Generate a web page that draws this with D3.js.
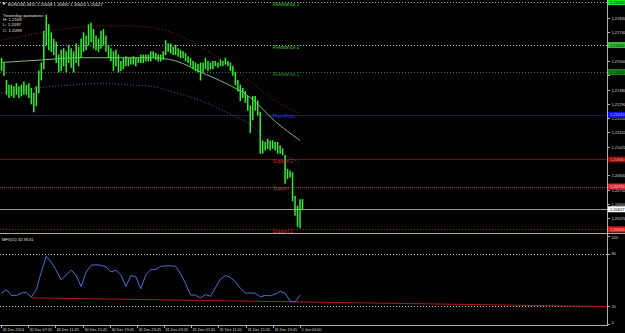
<!DOCTYPE html>
<html>
<head>
<meta charset="utf-8">
<script src="https://cdn.jsdelivr.net/npm/d3@7"></script>
<style>
body{margin:0;background:#000;}
svg{display:block;}
text{font-family:"Liberation Sans",Arial,sans-serif;font-size:4.3px;}
text.axis{font-size:4px;}
text.time{font-size:3.8px;}
text.level{font-size:4.6px;}
</style>
</head>
<body>
<svg id="chart" width="625" height="333"></svg>
<script>
// EURUSD M15 bars (high / low)
const barHigh = [1.2158,1.2155,1.2144,1.2141,1.2141,1.2140,1.2142,1.2140,1.2141,1.2143,1.2141,1.2142,1.2139,1.2136,1.2140,1.2150,
	1.2155,1.2175,1.2185,1.2179,1.2174,1.2170,1.2168,1.2160,1.2163,1.2164,1.2162,1.2166,1.2164,1.2162,1.2167,1.2165,
	1.2170,1.2174,1.2172,1.2179,1.2180,1.2176,1.2172,1.2170,1.2175,1.2176,1.2172,1.2166,1.2164,1.2162,1.2163,1.2160,
	1.2156,1.2158,1.2159,1.2158,1.2158,1.2159,1.2158,1.2158,1.2160,1.2160,1.2160,1.2160,1.2162,1.2162,1.2161,1.2160,
	1.2160,1.2162,1.2169,1.2167,1.2167,1.2165,1.2166,1.2164,1.2163,1.2162,1.2161,1.2159,1.2158,1.2156,1.2155,1.2154,
	1.2155,1.2155,1.2158,1.2156,1.2155,1.2156,1.2156,1.2155,1.2157,1.2156,1.2158,1.2156,1.2155,1.2153,1.2149,1.2144,
	1.2141,1.2139,1.2137,1.2134,1.2128,1.2134,1.2134,1.2131,1.2124,1.2106,1.2105,1.2107,1.2106,1.2106,1.2105,1.2105,
	1.2103,1.2101,1.2097,1.2088,1.2087,1.2086,1.2071,1.2065,1.2069,1.20691];
const barLow = [1.2150,1.2147,1.2135,1.2133,1.2134,1.2133,1.2135,1.2133,1.2134,1.2135,1.2135,1.2133,1.2129,1.2124,1.2128,1.2136,
	1.2144,1.2151,1.2166,1.2163,1.2162,1.2160,1.2155,1.2149,1.2150,1.2153,1.2149,1.2155,1.2152,1.2149,1.2155,1.2153,
	1.2158,1.2162,1.2163,1.2166,1.2168,1.2164,1.2163,1.2162,1.2164,1.2166,1.2162,1.2158,1.2156,1.2150,1.2153,1.2149,
	1.2150,1.2151,1.2153,1.2153,1.2154,1.2154,1.2153,1.2155,1.2155,1.2155,1.2156,1.2156,1.2156,1.2158,1.2157,1.2156,
	1.2156,1.2157,1.2160,1.2162,1.2161,1.2160,1.2160,1.2159,1.2158,1.2158,1.2156,1.2155,1.2153,1.2151,1.2150,1.2149,
	1.2144,1.2149,1.2151,1.2150,1.2151,1.2151,1.2153,1.2152,1.2153,1.2153,1.2154,1.2153,1.2150,1.2147,1.2141,1.2137,
	1.2131,1.2133,1.2130,1.2125,1.2111,1.2119,1.2125,1.2122,1.2098,1.2098,1.2100,1.2101,1.2100,1.2101,1.2100,1.2098,
	1.2098,1.2097,1.2079,1.2082,1.2083,1.2068,1.2059,1.2052,1.2051,1.20624];

// moving average and its bands, one value every 10 bars
const maMid = [1.2155,1.2156,1.2157,1.2158,1.2158,1.2158,1.2158,1.2156,1.2149,1.2142,1.2133,1.2118,1.2106];
const maUpper = [1.2169,1.2172,1.2175,1.2177,1.2178,1.2178,1.2177,1.2173,1.2165,1.2155,1.2143,1.2131,1.2123];
const maLower = [1.2136,1.2138,1.2140,1.2141,1.2142,1.2141,1.2140,1.2136,1.2131,1.2124,1.2116,1.2101,1.2092];

// pivot levels
const levelNames = ["Resistance 3","Resistance 2","Resistance 1","Pivot Point","Support 1","Support","Support 2"];
const levelPrices = [1.21930,1.21660,1.21490,1.21220,1.20940,1.20770,1.20500];
const lastPrice = 1.20627;

const priceTicks = [1.21830,1.21740,1.21650,1.21560,1.21470,1.21380,1.21290,1.21200,1.21110,1.21020,1.20930,1.20840,1.20750,1.20660,1.20570];

// MFI(11), one value every 2 bars
const mfi = [35.2,38.9,32.5,32.5,35.2,36,30.5,38.9,59.3,77,70.4,61.1,50,55.6,61.1,55.5,
	42.6,59,66.7,67.4,66.7,64.8,59.3,61.1,55.6,42.6,55,53.7,40,55.6,62,62,
	65.5,66,66,65.5,57,46,33,32.7,29.6,33.5,31.5,41,51,55,53,48,
	40.7,35.2,35.2,35,31,32.5,32,34,37,35,25.9,25,32.9];
const mfiLevels = [80, 20];
const mfiTrendBars = [12, 243.4];
const mfiTrendValues = [29.7, 19.8];

const timeLabels = ["30 Dec 2014","30 Dec 07:45","30 Dec 11:45","30 Dec 15:45","30 Dec 19:45","30 Dec 23:45",
	"31 Dec 03:45","31 Dec 07:45","31 Dec 11:45","31 Dec 15:45","31 Dec 19:45","2 Jan 03:00"];

const levelStyle = [
	{line:"#8fa88f", dash:"1,2", text:"#2ecc2e", box:"#22dd22", boxText:"#003300"},
	{line:"#b8b8b8", dash:"1,2", text:"#3cc23c", box:"#3ab83a", boxText:"#002200"},
	{line:"#506b50", dash:"1,2", text:"#2f8f2f", box:"#168516", boxText:"#001a00"},
	{line:"#1c1c4c", dash:null,  text:"#2b3cff", box:"#1010e0", boxText:"#c0c0ff"},
	{line:"#6a1414", dash:null,  text:"#d03030", box:"#8c0a0a", boxText:"#ffb0b0"},
	{line:"#a02838", dash:"1,1", text:"#e03040", box:"#d82a3a", boxText:"#ffd0d0"},
	{line:"#8c1c1c", dash:"1,2", text:"#d83030", box:"#e01818", boxText:"#ffd0d0"}
];

const svg = d3.select("#chart");
const axisX = 607;
svg.append("rect").attr("width",625).attr("height",333).attr("fill","#000");

const xBar = d3.scaleLinear().domain([0, barHigh.length - 1]).range([1.5, 302.5]);
const xTime = d3.scaleLinear().domain([0, 176]).range([1, 300]);
const yPrice = d3.scaleLinear().domain([1.20484, 1.21943]).range([232, 0]);
const yMfi = d3.scaleLinear().domain([0, 100]).range([324, 236]);

svg.append("clipPath").attr("id","mainClip").append("rect").attr("width",axisX).attr("height",233);
svg.append("clipPath").attr("id","mfiClip").append("rect").attr("y",234).attr("width",axisX).attr("height",91);

const main = svg.append("g").attr("clip-path","url(#mainClip)");

// pivot lines
levelPrices.forEach(function(p, i){
	main.append("line")
		.attr("x1",0).attr("x2",axisX)
		.attr("y1",Math.round(yPrice(p))+0.5).attr("y2",Math.round(yPrice(p))+0.5)
		.attr("stroke",levelStyle[i].line)
		.attr("stroke-dasharray",levelStyle[i].dash);
});
main.append("line")
	.attr("x1",0).attr("x2",axisX)
	.attr("y1",Math.round(yPrice(lastPrice))+0.5).attr("y2",Math.round(yPrice(lastPrice))+0.5)
	.attr("stroke","#9a9a9a");

// MA lines
const maLine = d3.line()
	.x((d, i) => xBar(i * 10))
	.y(d => yPrice(d))
	.curve(d3.curveMonotoneX);
main.append("path").attr("d",maLine(maUpper))
	.attr("fill","none").attr("stroke","#8a2a2a").attr("stroke-dasharray","1,2");
main.append("path").attr("d",maLine(maLower))
	.attr("fill","none").attr("stroke","#5a5aa8").attr("stroke-dasharray","1,2");
main.append("path").attr("d",maLine(maMid))
	.attr("fill","none").attr("stroke","#7fb87f").attr("stroke-width",1);

// bars
main.selectAll("line.bar")
	.data(barHigh)
	.enter().append("line")
	.attr("class","bar")
	.attr("x1",(d, i) => xBar(i)).attr("x2",(d, i) => xBar(i))
	.attr("y1",d => yPrice(d))
	.attr("y2",(d, i) => yPrice(barLow[i]) + 0.5)
	.attr("stroke","#33ee33")
	.attr("stroke-width",1.5);

// level labels
levelPrices.forEach(function(p, i){
	main.append("text")
		.attr("class","level")
		.attr("x",xTime(160)).attr("y",yPrice(p) + 3.5)
		.attr("fill",levelStyle[i].text)
		.text(levelNames[i]);
});

// header text
svg.append("path").attr("d","M2,2.5 L6,2.5 L4,5 Z").attr("fill","#ddd");
svg.append("text").attr("x",8).attr("y",5.5).attr("fill","#e0e0e0")
	.text("EURUSD,M15  1.20608 1.20691 1.20624 1.20627");
["Yesterday quotations:","H: 1.2169","L: 1.2097","C: 1.2099"].forEach(function(t, i){
	svg.append("text").attr("x",3).attr("y",[16.5,21,26,31.5][i]).attr("fill","#e0e0e0").text(t);
});

// price axis
const boxPrices = levelPrices.concat([lastPrice]);
svg.append("line").attr("x1",axisX+0.5).attr("x2",axisX+0.5).attr("y1",0).attr("y2",325.5).attr("stroke","#b0b0b0");
priceTicks.forEach(function(p){
	const y = Math.round(yPrice(p)) + 0.5;
	svg.append("line").attr("x1",axisX).attr("x2",axisX+3).attr("y1",y).attr("y2",y).attr("stroke","#b0b0b0");
	// the level boxes cover a tick label that sits right under them
	const hidden = boxPrices.some(b => Math.abs(yPrice(b) - y) < 3.5);
	if (!hidden){
		svg.append("text").attr("class","axis").attr("x",axisX+4.5).attr("y",y+1.5).attr("fill","#d8d8d8").text(p.toFixed(5));
	}
});
boxPrices.forEach(function(p, i){
	const st = i < levelStyle.length ? levelStyle[i] : {box:"#ffffff", boxText:"#000000"};
	const y = yPrice(p);
	svg.append("rect").attr("x",axisX+1).attr("y",y-3).attr("width",18).attr("height",6).attr("fill",st.box);
	svg.append("text").attr("class","axis").attr("x",axisX+3).attr("y",y+1.5).attr("fill",st.boxText).text(p.toFixed(5));
});

// panel separator
svg.append("line").attr("x1",0).attr("x2",625).attr("y1",233.5).attr("y2",233.5).attr("stroke","#a8a8a8");

// MFI panel
const sub = svg.append("g").attr("clip-path","url(#mfiClip)");
mfiLevels.forEach(function(v){
	sub.append("line").attr("x1",0).attr("x2",axisX)
		.attr("y1",Math.round(yMfi(v))+0.5).attr("y2",Math.round(yMfi(v))+0.5)
		.attr("stroke","#bcbcbc").attr("stroke-dasharray","1,2");
});
sub.append("path")
	.attr("d",d3.line().x((d, i) => xBar(mfiTrendBars[i])).y(d => yMfi(d))(mfiTrendValues))
	.attr("fill","none").attr("stroke","#b01818").attr("stroke-width",1);
sub.append("path")
	.attr("d",d3.line().x((d, i) => xBar(i * 2)).y(d => yMfi(d))(mfi))
	.attr("fill","none").attr("stroke","#4f6fd8").attr("stroke-width",1);
svg.append("text").attr("x",2).attr("y",240.5).attr("fill","#e0e0e0").text("MFI(11) 32.9131");
[100, 80, 20, 0].forEach(function(v){
	const y = Math.min(Math.max(yMfi(v), 237), 322);
	svg.append("line").attr("x1",axisX).attr("x2",axisX+3).attr("y1",Math.round(yMfi(v))+0.5).attr("y2",Math.round(yMfi(v))+0.5).attr("stroke","#b0b0b0");
	svg.append("text").attr("class","axis").attr("x",axisX+4.5).attr("y",y+1.5).attr("fill","#d8d8d8").text(v);
});

// time axis
svg.append("line").attr("x1",0).attr("x2",axisX+1).attr("y1",325.5).attr("y2",325.5).attr("stroke","#b0b0b0");
timeLabels.forEach(function(t, i){
	const x = Math.round(xTime(i * 16)) + 0.5;
	svg.append("line").attr("x1",x).attr("x2",x).attr("y1",325).attr("y2",328).attr("stroke","#b0b0b0");
	svg.append("text").attr("class","time").attr("x",x+1).attr("y",331).attr("fill","#d8d8d8").text(t);
});
</script>
</body>
</html>
